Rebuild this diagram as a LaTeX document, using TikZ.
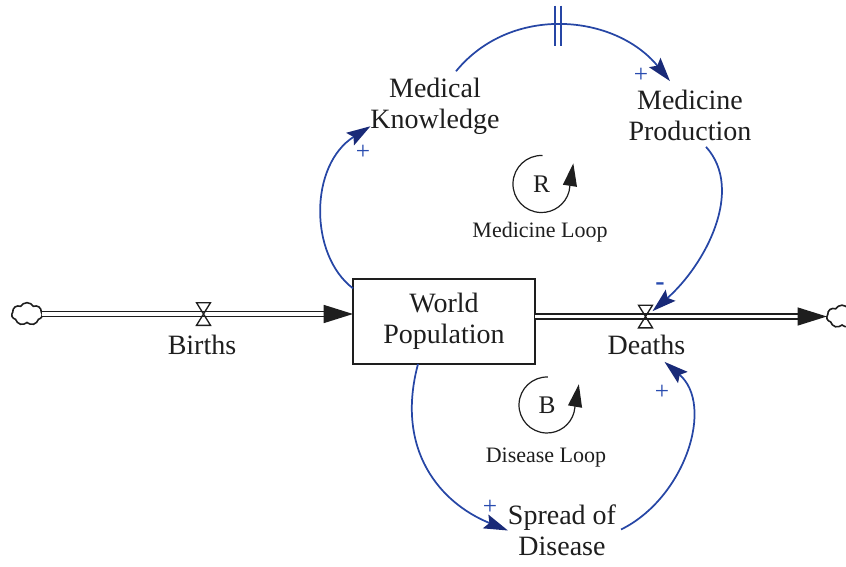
\documentclass[tikz,border=0pt]{standalone}
\usepackage{fontspec}
\setmainfont{Liberation Serif}
\usetikzlibrary{arrows.meta,shapes.symbols,calc}
\definecolor{linkblue}{RGB}{38,70,165}
\definecolor{tipblue}{RGB}{25,42,120}
\definecolor{signblue}{RGB}{40,75,175}
\definecolor{inkgray}{RGB}{30,30,30}
\begin{document}
\begin{tikzpicture}[x=0.75pt,y=0.75pt,
  every node/.style={inner sep=0pt, outer sep=0pt, text=inkgray},
  varname/.style={font=\fontsize{21}{23.25}\selectfont, align=center},
  looptext/.style={font=\fontsize{16.5}{19}\selectfont},
  loopletter/.style={font=\fontsize{19}{22}\selectfont},
  stock/.style={draw=inkgray, line width=0.9pt, minimum width=136.5pt, minimum height=63.75pt, varname},
  valve/.style={minimum width=10.5pt, minimum height=17pt},
  valveline/.style={draw=inkgray, line width=1pt, line join=miter},
  cloudnode/.style={cloud, cloud puffs=7, cloud puff arc=120, cloud ignores aspect, draw=inkgray, line width=1.2pt, minimum width=23pt, minimum height=17pt},
  pipe/.style={draw=inkgray, double, double distance=2.6pt, line width=1.1pt},
  pipetip/.style={draw=inkgray, line width=1.1pt, -{Triangle[length=22pt,width=13.5pt]}},
  link/.style={draw=linkblue, line width=1.3pt, -{Stealth[length=18pt,width=11pt,inset=3pt,color=tipblue]}},
  delaymark/.style={draw=linkblue, line width=1.3pt},
  sign/.style={text=signblue, font=\fontsize{19}{21}\selectfont},
  loopline/.style={draw=inkgray, line width=0.9pt, -{Triangle[length=17pt,width=10.5pt]}},
]
\useasboundingbox (0,0) rectangle (846,-567);

% stock, clouds and flow valves
\node[stock] (pop) at (444,-321.5) {World\\Population};
\node[cloudnode] (cloudL) at (27,-314) {};
\node[cloudnode] (cloudR) at (842,-316.5) {};
\node[valve] (vb) at (203.5,-314) {};
\node[valve] (vd) at (645.5,-316.5) {};

% flow pipes
\coordinate (inL) at (pop.west |- cloudL.east);
\coordinate (outR) at (pop.east |- cloudR.west);
\draw[pipe, shorten >=21pt] (cloudL.east) -- (inL);
\draw[pipetip] ([xshift=-22pt]inL) -- (inL);
\draw[pipe, shorten >=21pt] (outR) -- (cloudR.west);
\draw[pipetip] ([xshift=-22pt]cloudR.west) -- (cloudR.west);

% valve symbols
\draw[valveline] (vb.north west) -- (vb.north east) -- (vb.south west) -- (vb.south east) -- cycle;
\draw[valveline] (vd.north west) -- (vd.north east) -- (vd.south west) -- (vd.south east) -- cycle;

% variable names
\node[varname] (births) at (202,-345) {Births};
\node[varname] (deaths) at (646.5,-345) {Deaths};
\node[varname] (mk) at (435,-106.5) {Medical\\Knowledge};
\node[varname] (mp) at (690,-115.5) {Medicine\\Production};
\node[varname] (sod) at (562,-530.5) {Spread of\\Disease};

% causal links
\draw[link] (pop.160) .. controls (309,-255) and (309,-165) .. (mk.197);
\draw[link] ([shift={(21,7)}]mk.north) .. controls (511,-4) and (615,-14) .. ([shift={(-20,9)}]mp.north) coordinate[pos=0.48] (dly);
\draw[delaymark] ($(dly)+(-3,20)$) -- ($(dly)+(-3,-20)$);
\draw[delaymark] ($(dly)+(3,20)$) -- ($(dly)+(3,-20)$);
\draw[link] ([shift={(16,-6)}]mp.south) .. controls (745,-190) and (705,-265) .. ([yshift=4pt]vd.east);
\draw[link] ([shift={(-26,0)}]pop.south) .. controls (395,-450) and (440,-503) .. (sod.west);
\draw[link] ([shift={(5,1)}]sod.east) .. controls (685,-498) and (715,-405) .. ([shift={(18,-7)}]deaths.south);

% polarities
\node[sign] (pk) at (363,-152) {+};
\node[sign] (pp) at (641,-75) {+};
\node[sign, font=\bfseries\fontsize{21}{23}\selectfont] (md) at (660,-287) {-};
\node[sign] (ps) at (490,-507) {+};
\node[sign] (pd) at (662,-392) {+};

% loop markers
\node[loopletter] (rl) at (541.5,-184) {R};
\draw[loopline] (rl.center) ++(88:21.4pt) arc[start angle=88, end angle=345, radius=21.4pt] -- ++(3.2pt,21pt);
\node[looptext] (mloop) at (540,-232.5) {Medicine Loop};
\node[loopletter] (bl) at (547,-405) {B};
\draw[loopline] (bl.center) ++(88:21pt) arc[start angle=88, end angle=345, radius=21pt] -- ++(3.6pt,21pt);
\node[looptext] (dloop) at (546,-457.5) {Disease Loop};
\end{tikzpicture}
\end{document}
